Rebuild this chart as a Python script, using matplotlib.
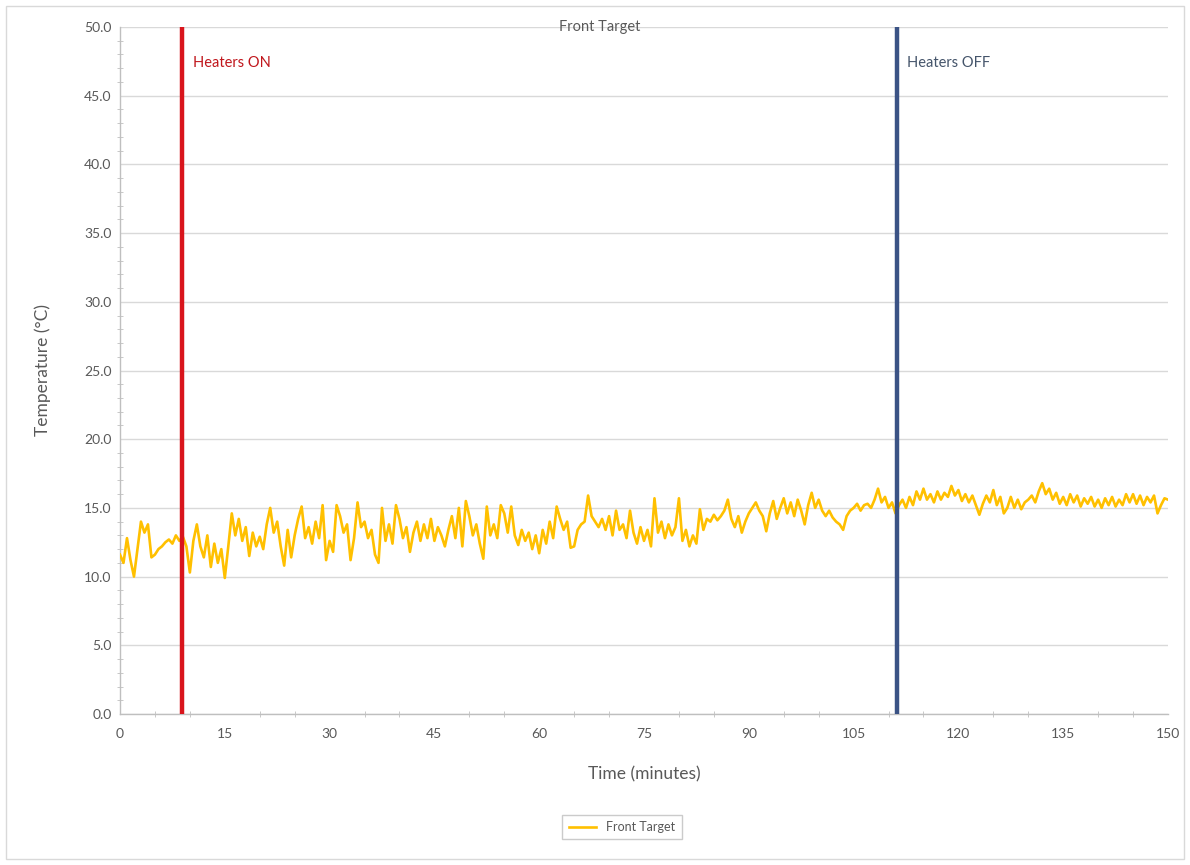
#!/usr/bin/env python3
"""Front Target temperature over time, with heater on/off markers."""

import matplotlib
matplotlib.use("Agg")
import matplotlib.pyplot as plt
from matplotlib.patches import Rectangle
from matplotlib.ticker import MultipleLocator, FormatStrFormatter

# ---------------------------------------------------------------------------
# data (one value every half minute)
# ---------------------------------------------------------------------------
STEP_MIN = 0.5
FRONT_TARGET = [
    11.6, 11.0, 12.8, 11.2, 10.0, 12.0, 14.0, 13.2, 13.8, 11.4,
    11.6, 12.0, 12.2, 12.5, 12.7, 12.4, 13.0, 12.6, 12.9, 12.2,
    10.3, 12.6, 13.8, 12.2, 11.4, 13.0, 10.7, 12.4, 11.0, 12.0,
    9.9, 12.2, 14.6, 13.0, 14.2, 12.6, 13.6, 11.5, 13.2, 12.2,
    12.9, 12.0, 13.8, 15.0, 13.2, 14.0, 12.2, 10.8, 13.4, 11.4,
    13.0, 14.2, 15.1, 12.8, 13.6, 12.4, 14.0, 12.8, 15.2, 11.2,
    12.6, 11.8, 15.2, 14.4, 13.2, 13.8, 11.2, 12.8, 15.4, 13.6,
    14.0, 12.8, 13.4, 11.6, 11.0, 15.0, 12.6, 13.8, 12.4, 15.2,
    14.2, 12.8, 13.6, 11.8, 13.2, 14.0, 12.6, 13.8, 12.8, 14.2,
    12.6, 13.6, 13.0, 12.2, 13.4, 14.4, 12.8, 15.0, 12.2, 15.5,
    14.4, 13.0, 13.8, 12.4, 11.3, 15.1, 13.0, 13.8, 12.8, 15.2,
    14.6, 13.2, 15.1, 13.0, 12.3, 13.4, 12.6, 13.2, 12.0, 13.0,
    11.7, 13.4, 12.4, 14.0, 12.8, 15.1, 14.2, 13.4, 14.0, 12.1,
    12.2, 13.4, 13.8, 14.0, 15.9, 14.4, 14.0, 13.6, 14.2, 13.4,
    14.4, 13.0, 14.8, 13.4, 13.8, 12.8, 14.8, 13.2, 12.4, 13.6,
    12.6, 13.4, 12.2, 15.7, 13.2, 14.0, 12.8, 13.8, 13.0, 13.6,
    15.7, 12.6, 13.4, 12.2, 13.0, 12.4, 14.9, 13.4, 14.2, 14.0,
    14.5, 14.1, 14.4, 14.8, 15.6, 14.2, 13.6, 14.4, 13.2, 14.0,
    14.6, 15.0, 15.4, 14.8, 14.4, 13.3, 14.6, 15.5, 14.2, 15.0,
    15.7, 14.6, 15.4, 14.4, 15.6, 14.8, 13.8, 15.2, 16.1, 15.0,
    15.6, 14.8, 14.4, 14.8, 14.3, 14.0, 13.8, 13.4, 14.4, 14.8,
    15.0, 15.3, 14.8, 15.2, 15.3, 15.0, 15.6, 16.4, 15.4, 15.8,
    15.0, 15.4, 14.6, 15.2, 15.6, 15.0, 15.8, 15.2, 16.2, 15.6,
    16.4, 15.6, 16.0, 15.4, 16.2, 15.6, 16.1, 15.8, 16.6, 15.9,
    16.3, 15.5, 16.0, 15.4, 15.9, 15.2, 14.5, 15.3, 15.9, 15.4,
    16.3, 15.2, 15.8, 14.6, 15.0, 15.8, 15.0, 15.6, 14.9, 15.4,
    15.6, 15.9, 15.4, 16.2, 16.8, 16.0, 16.4, 15.6, 16.1, 15.3,
    15.8, 15.2, 16.0, 15.4, 15.9, 15.1, 15.7, 15.3, 15.8, 15.1,
    15.6, 15.0, 15.7, 15.2, 15.8, 15.1, 15.6, 15.2, 16.0, 15.4,
    16.0, 15.3, 15.9, 15.2, 15.8, 15.4, 15.9, 14.6, 15.2, 15.7,
    15.6,
]
TIME_MIN = [i * STEP_MIN for i in range(len(FRONT_TARGET))]

HEATERS_ON_AT = 8.9
HEATERS_OFF_AT = 111.2

# ---------------------------------------------------------------------------
# style
# ---------------------------------------------------------------------------
plt.rcParams["font.family"] = ["Lato", "DejaVu Sans"]
TEXT_GRAY = "#595959"
GRID_GRAY = "#d9d9d9"
AXIS_GRAY = "#bfbfbf"
LINE_GOLD = "#FFC000"
RED = "#d9151c"
BLUE = "#3b5385"

fig = plt.figure(figsize=(11.9, 8.65), dpi=100)
ax = fig.add_axes([120 / 1190, 1 - 714 / 865, 1048 / 1190, 687 / 865])

ax.plot(TIME_MIN, FRONT_TARGET, color=LINE_GOLD, linewidth=1.9,
        label="Front Target", zorder=3)

ax.axvline(HEATERS_ON_AT, color=RED, linewidth=3.2, zorder=4)
ax.axvline(HEATERS_OFF_AT, color=BLUE, linewidth=3.2, zorder=4)
ax.text(HEATERS_ON_AT + 1.6, 47.4, "Heaters ON", color="#c0161c",
        fontsize=10.5, va="center", ha="left")
ax.text(HEATERS_OFF_AT + 1.4, 47.4, "Heaters OFF", color="#44546a",
        fontsize=10.5, va="center", ha="left")

# axes
ax.set_xlim(0, 150)
ax.set_ylim(0, 50)
ax.xaxis.set_major_locator(MultipleLocator(15))
ax.xaxis.set_minor_locator(MultipleLocator(5))
ax.yaxis.set_major_locator(MultipleLocator(5))
ax.yaxis.set_minor_locator(MultipleLocator(1))
ax.yaxis.set_major_formatter(FormatStrFormatter("%.1f"))

for side in ("top", "right"):
    ax.spines[side].set_visible(False)
for side in ("left", "bottom"):
    ax.spines[side].set_color(AXIS_GRAY)
    ax.spines[side].set_linewidth(1.0)

ax.grid(axis="y", which="major", color=GRID_GRAY, linewidth=1.0, zorder=0)
ax.set_axisbelow(True)

ax.tick_params(axis="both", which="both", colors=AXIS_GRAY, labelcolor=TEXT_GRAY,
               labelsize=10, direction="inout")
ax.tick_params(axis="x", which="major", length=0, pad=10)
ax.tick_params(axis="x", which="minor", length=5)
ax.tick_params(axis="y", which="major", length=0, pad=6)
ax.tick_params(axis="y", which="minor", length=5)

ax.set_xlabel("Time (minutes)", fontsize=12.5, color=TEXT_GRAY, labelpad=19)
ax.set_ylabel("Temperature (°C)", fontsize=12.5, color=TEXT_GRAY, labelpad=24)

fig.text(600 / 1190, 1 - 27 / 865, "Front Target", ha="center", va="center",
         fontsize=10.5, color=TEXT_GRAY)

leg = fig.legend(loc="center", bbox_to_anchor=(622 / 1190, 1 - 827 / 865),
                 fontsize=9, frameon=True, fancybox=False, handlelength=2.2,
                 borderpad=0.5)
leg.get_frame().set_edgecolor(AXIS_GRAY)
leg.get_frame().set_linewidth(1.0)
for txt in leg.get_texts():
    txt.set_color(TEXT_GRAY)

# chart-area border
fig.patches.append(Rectangle((6 / 1190, 6 / 865), 1178 / 1190, 853 / 865,
                             transform=fig.transFigure, fill=False,
                             edgecolor=GRID_GRAY, linewidth=1.0))

fig.savefig("out.png", dpi=100)
